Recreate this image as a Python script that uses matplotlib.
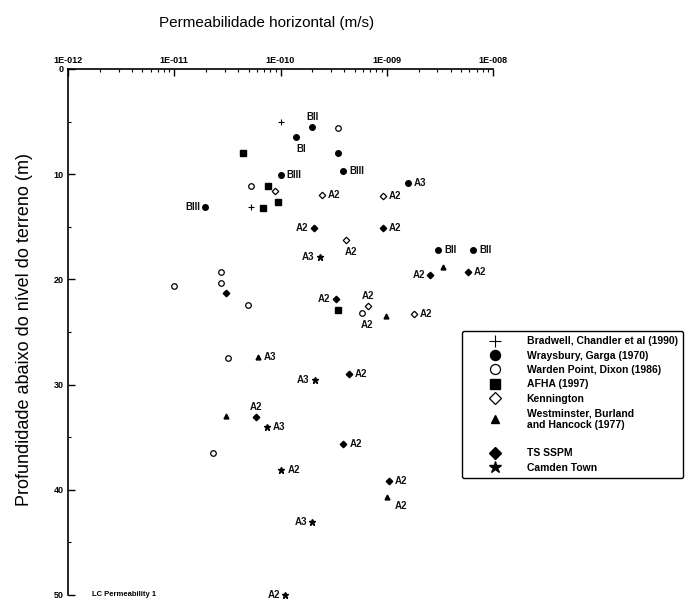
import matplotlib
matplotlib.use("Agg")
import matplotlib.pyplot as plt
from matplotlib.lines import Line2D
from matplotlib.ticker import FixedLocator, NullFormatter, LogLocator

# horizontal permeability (m/s) and depth below ground (m)
bradwell_k = [1.0e-10, 5.3e-11]
bradwell_d = [5.0, 13.1]
bradwell_lab = ["", ""]

wraysbury_k = [2.0e-10, 1.39e-10, 3.5e-10, 3.9e-10, 1.0e-10, 1.96e-11, 1.58e-9, 3.03e-9, 6.5e-9]
wraysbury_d = [5.5, 6.5, 8.0, 9.7, 10.1, 13.1, 10.8, 17.2, 17.2]
wraysbury_lab = ["BII", "BI", "", "BIII", "BIII", "BIII", "A3", "BII", "BII"]

warden_k = [3.45e-10, 5.3e-11, 1.0e-11, 2.77e-11, 2.77e-11, 4.99e-11, 5.8e-10, 3.2e-11, 2.33e-11]
warden_d = [5.6, 11.1, 20.6, 19.3, 20.3, 22.4, 23.2, 27.5, 36.5]
warden_lab = ["", "", "", "", "", "", "A2", "", ""]

afha_k = [4.39e-11, 7.7e-11, 9.4e-11, 6.9e-11, 3.5e-10]
afha_d = [8.0, 11.1, 12.6, 13.2, 22.9]
afha_lab = ["", "", "", "", ""]

kenn_k = [8.8e-11, 2.44e-10, 9.2e-10, 4.1e-10, 6.6e-10, 1.8e-9]
kenn_d = [11.6, 12.0, 12.1, 16.3, 22.5, 23.3]
kenn_lab = ["", "A2", "A2", "A2", "A2", "A2"]

westm_k = [3.37e-9, 9.8e-10, 6.1e-11, 3.1e-11, 1.0e-9]
westm_d = [18.8, 23.5, 27.4, 33.0, 40.7]
westm_lab = ["", "", "A3", "", "A2"]

tsspm_k = [2.05e-10, 9.2e-10, 2.55e-9, 5.8e-9, 3.3e-10, 3.1e-11, 4.4e-10, 5.9e-11, 3.9e-10, 1.04e-9]
tsspm_d = [15.1, 15.1, 19.6, 19.3, 21.9, 21.3, 29.0, 33.1, 35.6, 39.2]
tsspm_lab = ["A2", "A2", "A2", "A2", "A2", "", "A2", "A2", "A2", "A2"]

camden_k = [2.33e-10, 2.1e-10, 7.4e-11, 1.02e-10, 2.0e-10, 1.11e-10]
camden_d = [17.9, 29.6, 34.0, 38.1, 43.1, 50.0]
camden_lab = ["A3", "A3", "A3", "A2", "A3", "A2"]

xtick_vals = [1e-12, 1e-11, 1e-10, 1e-9, 1e-8]
xtick_labels = ["1E-012", "1E-011", "1E-010", "1E-009", "1E-008"]
ytick_vals = [0, 10, 20, 30, 40, 50]

# where each label sits relative to its point
sides = {
    "bradwell": ["", ""],
    "wraysbury": ["a", "b", "", "r", "r", "l", "r", "r", "r"],
    "warden": ["", "", "", "", "", "", "b", "", ""],
    "afha": ["", "", "", "", ""],
    "kenn": ["", "r", "r", "b", "a", "r"],
    "westm": ["", "", "r", "", "br"],
    "tsspm": ["l", "r", "l", "r", "l", "", "r", "a", "r", "r"],
    "camden": ["l", "l", "r", "r", "l", "l"],
}
offs = {
    "r": ((6, 0), "left", "center"),
    "l": ((-5, 0), "right", "center"),
    "a": ((0, 5), "center", "bottom"),
    "b": ((5, -7), "center", "top"),
    "br": ((14, -4), "center", "top"),
}

series = [
    ("bradwell", "Bradwell, Chandler et al (1990)", bradwell_k, bradwell_d, bradwell_lab,
     dict(marker="+", ms=5, mew=0.8, color="black")),
    ("wraysbury", "Wraysbury, Garga (1970)", wraysbury_k, wraysbury_d, wraysbury_lab,
     dict(marker="o", ms=4, color="black")),
    ("warden", "Warden Point, Dixon (1986)", warden_k, warden_d, warden_lab,
     dict(marker="o", ms=4, mfc="white", mec="black", mew=0.9)),
    ("afha", "AFHA (1997)", afha_k, afha_d, afha_lab,
     dict(marker="s", ms=4, color="black")),
    ("kenn", "Kennington", kenn_k, kenn_d, kenn_lab,
     dict(marker="D", ms=3.3, mfc="white", mec="black", mew=0.9)),
    ("westm", "Westminster, Burland\nand Hancock (1977)", westm_k, westm_d, westm_lab,
     dict(marker="^", ms=3.5, color="black")),
    ("tsspm", "TS SSPM", tsspm_k, tsspm_d, tsspm_lab,
     dict(marker="D", ms=3.3, color="black")),
    ("camden", "Camden Town", camden_k, camden_d, camden_lab,
     dict(marker="*", ms=5, color="black")),
]

plt.rcParams["font.family"] = ["Liberation Sans", "DejaVu Sans"]

fig = plt.figure(figsize=(6.86, 5.99), dpi=100)
ax = fig.add_axes([68 / 686, 4 / 599, 425 / 686, 526 / 599])

handles = []
for key, name, k, d, labs, st in series:
    ax.plot(k, d, ls="none", clip_on=False, **st)
    for i, t in enumerate(labs):
        if not t:
            continue
        (dx, dy), ha, va = offs[sides[key][i]]
        ax.annotate(t, (k[i], d[i]), xytext=(dx, dy), textcoords="offset pixels",
                    ha=ha, va=va, fontsize=7, fontweight="bold", color="#111111",
                    annotation_clip=False)
    hst = dict(st)
    hst["ms"] = st["ms"] * 1.8
    handles.append(Line2D([], [], ls="none", label=name, **hst))
    if key == "westm":
        # the scan leaves an empty row after the two-line entry
        handles.append(Line2D([], [], ls="none", marker="", label=" "))

ax.set_xscale("log")
ax.set_xlim(1e-12, 1e-8)
ax.set_ylim(50, 0)
ax.xaxis.tick_top()
ax.set_xticks(xtick_vals)
ax.set_xticklabels(xtick_labels)
ax.xaxis.set_minor_locator(LogLocator(base=10, subs=range(2, 10)))
ax.xaxis.set_minor_formatter(NullFormatter())
ax.set_yticks(ytick_vals)
ax.yaxis.set_minor_locator(FixedLocator([5, 15, 25, 35, 45]))
for lab in ax.get_xticklabels() + ax.get_yticklabels():
    lab.set_fontsize(6.5)
    lab.set_fontweight("bold")
ax.tick_params(which="major", direction="in", length=5, width=1, pad=3)
ax.tick_params(which="minor", direction="in", length=2.5, width=0.8)
ax.tick_params(axis="x", which="both", top=True, bottom=False)
ax.tick_params(axis="y", which="both", left=True, right=False)
for s in ["right", "bottom"]:
    ax.spines[s].set_visible(False)
for s in ["left", "top"]:
    ax.spines[s].set_linewidth(1.2)

leg = fig.legend(handles=handles, loc="upper left", bbox_to_anchor=(462 / 686, 1 - 331 / 599),
                 frameon=True, fancybox=True, edgecolor="black",
                 handlelength=5.3, handletextpad=0.4, labelspacing=0.42, borderpad=0.5,
                 borderaxespad=0, prop={"weight": "bold", "size": 7.5})
leg.get_frame().set_linewidth(1.0)
leg.get_frame().set_alpha(1)

fig.text(267 / 686, 1 - 23 / 599, "Permeabilidade horizontal (m/s)", ha="center", va="center",
         fontsize=11)
fig.text(25 / 686, 1 - 330 / 599, "Profundidade abaixo do nível do terreno (m)", ha="center",
         va="center", rotation=90, fontsize=13)
fig.text(92 / 686, 1 - 594 / 599, "LC Permeability 1", ha="left", va="center",
         fontsize=5.5, fontweight="bold")

fig.savefig("out.png", dpi=100)
